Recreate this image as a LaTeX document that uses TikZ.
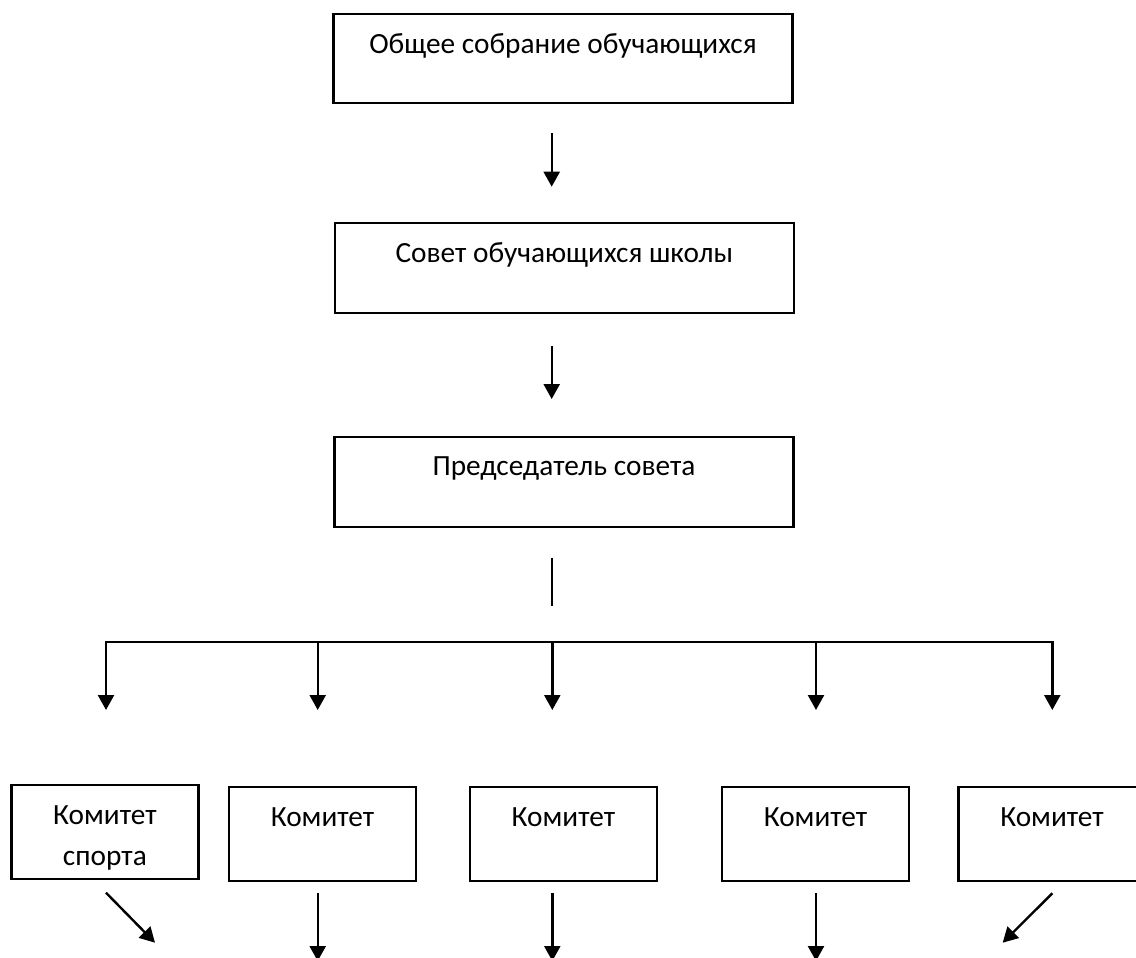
\documentclass[tikz,border=0pt]{standalone}
\usepackage{fontspec}
\setmainfont{Carlito}
\usetikzlibrary{arrows.meta}
\begin{document}
\begin{tikzpicture}[x=1pt,y=-1pt,
  box/.style={draw, line width=2.3pt, inner xsep=0pt, inner ysep=0pt, align=center,
     font=\fontsize{29.3}{41}\selectfont, text height=39pt, anchor=center},
  wide/.style={box, minimum width=459pt},
  small/.style={box, minimum width=187pt, text depth=55pt},
  conn/.style={line width=2.4pt, -{Triangle[length=15pt,width=16pt]}},
  plain/.style={line width=2.4pt}]
\clip (0,0) rectangle (1136,958);
\fill[white] (0,0) rectangle (1136,958);
% top chain
\node[wide, text depth=49.7pt] (b1) at (563,58.4) {Общее собрание обучающихся};
\node[wide, text depth=51pt] (b2) at (564.3,268.3) {Совет обучающихся школы};
\node[wide, text depth=51pt] (b3) at (564,481.9) {Председатель совета};
% committees
\node[small, text height=80pt, text depth=14pt] (cA) at (104.9,832) {Комитет\\спорта};
\node[small] (cB) at (322.5,834) {Комитет};
\node[small] (cC) at (563.4,834) {Комитет};
\node[small] (cD) at (815.5,834) {Комитет};
\node[small] (cE) at (1052,834) {Комитет};
% arrow end points
\coordinate (p1) at (551.7,133);   \coordinate (q1) at (551.7,186.7);
\coordinate (p2) at (551.7,345.7); \coordinate (q2) at (551.7,399);
\coordinate (s1) at (552,557.7);   \coordinate (s2) at (552,606);
\coordinate (bm) at (552.3,641.7);
\coordinate (t1) at (106,710);   \coordinate (t2) at (317.7,710);
\coordinate (t3) at (552.3,710); \coordinate (t4) at (816,710);
\coordinate (t5) at (1052.3,710);
\coordinate (uA) at (106,892.7);   \coordinate (vA) at (155,942.7);
\coordinate (uB) at (317.7,893);   \coordinate (vB) at (317.7,961);
\coordinate (uC) at (552.3,893);   \coordinate (vC) at (552.3,961);
\coordinate (uD) at (816,893);     \coordinate (vD) at (816,961);
\coordinate (uE) at (1052.3,893.3); \coordinate (vE) at (1002.7,942.7);
% connectors
\draw[conn] (p1) -- (q1);
\draw[conn] (p2) -- (q2);
\draw[plain] (s1) -- (s2);
\draw[conn] (bm) -| (t1);
\draw[conn] (bm) -| (t5);
\draw[conn] (t2 |- bm) -- (t2);
\draw[conn] (bm) -- (t3);
\draw[conn] (t4 |- bm) -- (t4);
\draw[conn] (uA) -- (vA);
\draw[conn] (uB) -- (vB);
\draw[conn] (uC) -- (vC);
\draw[conn] (uD) -- (vD);
\draw[conn] (uE) -- (vE);
\end{tikzpicture}
\end{document}
